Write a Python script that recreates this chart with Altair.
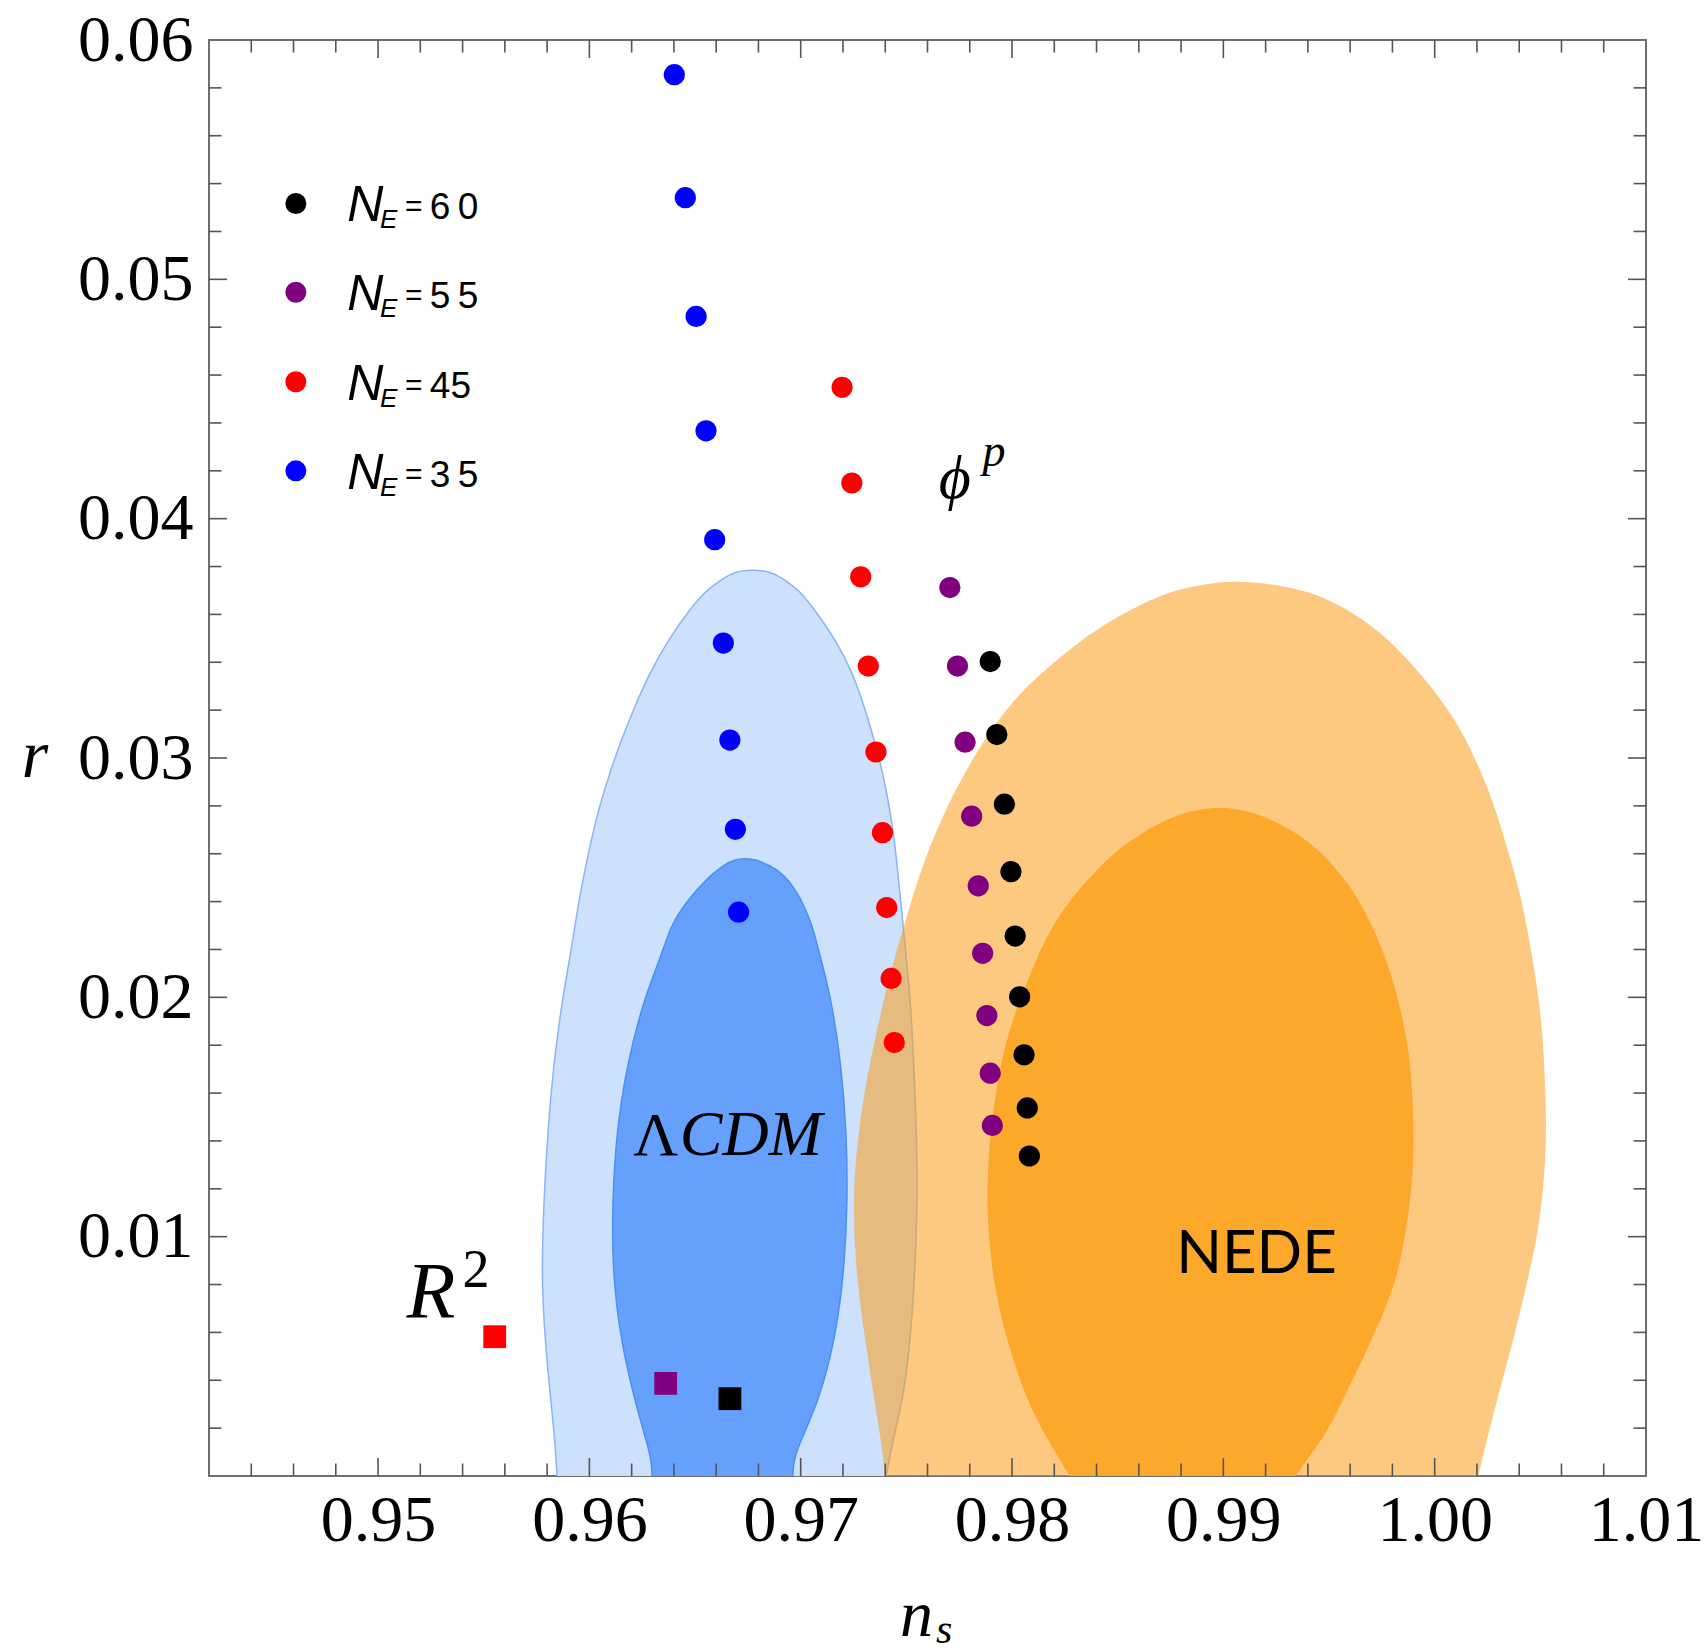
import altair as alt
import pandas as pd

# ---------------- data ----------------
NE_groups = ["60", "55", "45", "35"]
NE_colors = ["#000000", "#800080", "#ff0000", "#0000ff"]

ns_N60 = [0.97897, 0.97928, 0.97964, 0.97995, 0.98015, 0.98036, 0.98057, 0.98072, 0.98082]
r_N60 = [0.03403, 0.03098, 0.02807, 0.02525, 0.02256, 0.02002, 0.01760, 0.01538, 0.01337]
ns_N55 = [0.97706, 0.97742, 0.97778, 0.97809, 0.97840, 0.97861, 0.97881, 0.97897, 0.97907]
r_N55 = [0.03712, 0.03384, 0.03066, 0.02757, 0.02466, 0.02184, 0.01924, 0.01683, 0.01465]
ns_N45 = [0.97196, 0.97242, 0.97284, 0.97320, 0.97356, 0.97387, 0.97407, 0.97428, 0.97443]
r_N45 = [0.04549, 0.04149, 0.03757, 0.03384, 0.03025, 0.02688, 0.02375, 0.02079, 0.01811]
ns_N35 = [0.96402, 0.96454, 0.96505, 0.96552, 0.96593, 0.96634, 0.96665, 0.96691, 0.96706]
r_N35 = [0.05855, 0.05341, 0.04845, 0.04367, 0.03912, 0.03480, 0.03075, 0.02702, 0.02356]

# R^2 model points (squares)
R2_groups = ["45", "55", "60"]
R2_ns = [0.95552, 0.96361, 0.96665]
R2_r = [0.00582, 0.00387, 0.00323]

# LCDM 2-sigma contour (outer, light blue), boundary traced counter-clockwise
lcdm2_ns = [0.95858, 0.95853, 0.95848, 0.95834, 0.95801, 0.95777, 0.95777, 0.95792, 0.95811,
            0.95839, 0.95872, 0.95905, 0.95921, 0.95945, 0.95976, 0.96008, 0.96047, 0.96095,
            0.96150, 0.96213, 0.96284, 0.96371, 0.96482, 0.96553, 0.96616, 0.96687, 0.96772,
            0.96860, 0.96931, 0.96994, 0.97057, 0.97168, 0.97247, 0.97302, 0.97349, 0.97389,
            0.97420, 0.97444, 0.97460, 0.97476, 0.97492, 0.97500, 0.97520, 0.97534, 0.97548,
            0.97553, 0.97539, 0.97515, 0.97482, 0.97444, 0.97402, 0.97373, 0.97354]
lcdm2_r = [-0.00351, -0.00184, 0.00000, 0.00180, 0.00455, 0.00735, 0.00985, 0.01278, 0.01528,
           0.01779, 0.01987, 0.02154, 0.02238, 0.02377, 0.02518, 0.02656, 0.02795, 0.02935,
           0.03073, 0.03212, 0.03353, 0.03491, 0.03630, 0.03699, 0.03741, 0.03779, 0.03787,
           0.03779, 0.03741, 0.03699, 0.03630, 0.03491, 0.03353, 0.03212, 0.03073, 0.02935,
           0.02795, 0.02656, 0.02518, 0.02377, 0.02238, 0.02154, 0.01987, 0.01737, 0.01445,
           0.01152, 0.00818, 0.00526, 0.00317, 0.00180, 0.00000, -0.00184, -0.00351]

# LCDM 1-sigma contour (inner, blue)
lcdm1_ns = [0.96298, 0.96298, 0.96298, 0.96279, 0.96213, 0.96142, 0.96109, 0.96109, 0.96128,
            0.96175, 0.96256, 0.96331, 0.96363, 0.96394, 0.96442, 0.96505, 0.96584, 0.96634,
            0.96687, 0.96739, 0.96789, 0.96852, 0.96915, 0.96979, 0.97018, 0.97050, 0.97073,
            0.97097, 0.97146, 0.97193, 0.97217, 0.97222, 0.97207, 0.97169, 0.97089, 0.96985,
            0.96961, 0.96961, 0.96961]
lcdm1_r = [-0.00351, -0.00100, 0.00046, 0.00121, 0.00317, 0.00597, 0.00873, 0.01152, 0.01432,
           0.01708, 0.01987, 0.02154, 0.02238, 0.02309, 0.02377, 0.02447, 0.02518, 0.02551,
           0.02576, 0.02580, 0.02576, 0.02551, 0.02518, 0.02447, 0.02377, 0.02309, 0.02238,
           0.02154, 0.01987, 0.01708, 0.01432, 0.01152, 0.00873, 0.00597, 0.00317, 0.00121,
           0.00046, -0.00100, -0.00351]

# NEDE 2-sigma contour (outer, light orange)
nede2_ns = [0.97430, 0.97416, 0.97401, 0.97383, 0.97349, 0.97312, 0.97278, 0.97255, 0.97250,
            0.97259, 0.97293, 0.97340, 0.97392, 0.97440, 0.97487, 0.97534, 0.97586, 0.97648,
            0.97724, 0.97809, 0.97908, 0.98031, 0.98207, 0.98401, 0.98704, 0.98888, 0.99049,
            0.99220, 0.99466, 0.99727, 0.99878, 1.00011, 1.00120, 1.00196, 1.00262, 1.00314,
            1.00361, 1.00404, 1.00437, 1.00465, 1.00494, 1.00513, 1.00527, 1.00527, 1.00513,
            1.00489, 1.00437, 1.00380, 1.00337, 1.00295, 1.00247, 1.00205, 1.00167, 1.00120]
nede2_r = [-0.00351, -0.00184, 0.00000, 0.00129, 0.00317, 0.00526, 0.00735, 0.00944, 0.01152,
           0.01319, 0.01570, 0.01779, 0.01987, 0.02154, 0.02292, 0.02434, 0.02572, 0.02710,
           0.02852, 0.02990, 0.03127, 0.03269, 0.03407, 0.03545, 0.03687, 0.03724, 0.03741,
           0.03729, 0.03687, 0.03545, 0.03407, 0.03269, 0.03127, 0.02990, 0.02852, 0.02710,
           0.02572, 0.02434, 0.02292, 0.02154, 0.01987, 0.01820, 0.01570, 0.01361, 0.01194,
           0.01015, 0.00806, 0.00597, 0.00455, 0.00317, 0.00150, 0.00000, -0.00184, -0.00351]

# NEDE 1-sigma contour (inner, orange)
nede1_ns = [0.98534, 0.98401, 0.98273, 0.98169, 0.98069, 0.97989, 0.97927, 0.97894, 0.97880,
            0.97890, 0.97910, 0.97933, 0.97965, 0.98012, 0.98075, 0.98139, 0.98225, 0.98352,
            0.98509, 0.98636, 0.98778, 0.98988, 0.99172, 0.99328, 0.99441, 0.99583, 0.99678,
            0.99749, 0.99803, 0.99843, 0.99875, 0.99891, 0.99898, 0.99902, 0.99888, 0.99835,
            0.99783, 0.99712, 0.99641, 0.99565, 0.99489, 0.99409, 0.99339, 0.99220, 0.99101]
nede1_r = [-0.00351, -0.00184, 0.00000, 0.00150, 0.00317, 0.00526, 0.00735, 0.00944, 0.01152,
           0.01361, 0.01516, 0.01653, 0.01793, 0.01933, 0.02071, 0.02210, 0.02351, 0.02489,
           0.02628, 0.02697, 0.02768, 0.02802, 0.02768, 0.02697, 0.02628, 0.02489, 0.02351,
           0.02210, 0.02071, 0.01933, 0.01793, 0.01653, 0.01516, 0.01361, 0.01152, 0.00873,
           0.00735, 0.00589, 0.00455, 0.00317, 0.00180, 0.00084, 0.00000, -0.00184, -0.00351]

# axis ticks
x_labels = [0.95, 0.96, 0.97, 0.98, 0.99, 1.00, 1.01]
y_labels = [0.01, 0.02, 0.03, 0.04, 0.05, 0.06]
x_major = [0.95, 0.96, 0.97, 0.98, 0.99, 1.00]
x_minor = [round(0.944 + 0.002 * k, 3) for k in range(33)]
x_minor = [v for v in x_minor if all(abs(v - m) > 1e-6 for m in x_major + [1.01])]
y_major = [0.01, 0.02, 0.03, 0.04, 0.05]
y_minor = [round(0.002 * k, 3) for k in range(1, 30)]
y_minor = [v for v in y_minor if all(abs(v - m) > 1e-6 for m in y_major)]

# legend rows
leg_r = [0.05317, 0.04946, 0.04572, 0.04200]
leg_num = ["6\u20090", "5\u20095", "45", "3\u20095"]

# ---------------- layout / styles ----------------
W, H = 1437, 1436
SERIF = "Liberation Serif, DejaVu Serif, serif"
SANS = "Liberation Sans Narrow, Liberation Sans, Arial, sans-serif"

XS = alt.Scale(domain=[0.942, 1.01], nice=False, zero=False)
YS = alt.Scale(domain=[0.0, 0.06], nice=False, zero=False)

x_axis = alt.Axis(values=x_labels, format=".2f", labelFont=SERIF, labelFontSize=66,
                  labelColor="black", ticks=False, domain=False, grid=False,
                  labelPadding=12, labelFlush=False, labelOverlap=False, title=None)
y_axis = alt.Axis(values=y_labels, format=".2f", labelFont=SERIF, labelFontSize=66,
                  labelColor="black", ticks=False, domain=False, grid=False,
                  labelPadding=16, labelFlush=False, labelOverlap=False, title=None)


def X(f):
    return alt.X(f"{f}:Q", scale=XS, axis=x_axis)


def Y(f):
    return alt.Y(f"{f}:Q", scale=YS, axis=y_axis)


color = alt.Color("g:N", scale=alt.Scale(domain=NE_groups, range=NE_colors), legend=None)


def contour(ns, r, fill, stroke=None, sw=0, fop=1.0):
    df = pd.DataFrame({"ns": ns, "r": r, "i": list(range(len(ns)))})
    kw = dict(fill=fill, fillOpacity=fop, interpolate="basis-closed", clip=True)
    if stroke:
        kw.update(stroke=stroke, strokeWidth=sw)
    else:
        kw.update(stroke=fill, strokeWidth=0, strokeOpacity=0)
    return alt.Chart(df).mark_line(**kw).encode(x=X("ns"), y=Y("r"), order=alt.Order("i:Q"))


layers = []
layers.append(contour(lcdm2_ns, lcdm2_r, "#cde0fc", "#8ab5f5", 1.5))
layers.append(contour(lcdm1_ns, lcdm1_r, "#65a1fc", "#4a8ff6", 1.5))
layers.append(contour(nede2_ns, nede2_r, "#fb9d18", None, 0, 0.55))
layers.append(contour(nede1_ns, nede1_r, "#fca82b"))

# points
pts = pd.DataFrame({
    "ns": ns_N60 + ns_N55 + ns_N45 + ns_N35,
    "r": r_N60 + r_N55 + r_N45 + r_N35,
    "g": ["60"] * len(ns_N60) + ["55"] * len(ns_N55) + ["45"] * len(ns_N45) + ["35"] * len(ns_N35),
})
layers.append(alt.Chart(pts).mark_circle(size=450, opacity=1).encode(
    x=X("ns"), y=Y("r"), color=color))

sq = pd.DataFrame({"ns": R2_ns, "r": R2_r, "g": R2_groups})
layers.append(alt.Chart(sq).mark_square(size=520, opacity=1).encode(
    x=X("ns"), y=Y("r"), color=color))

# legend (drawn inside the frame)
leg = pd.DataFrame({"r": leg_r, "g": NE_groups, "t": leg_num,
                    "x0": [0.94611] * 4, "x1": [0.94854] * 4, "x2": [0.95009] * 4,
                    "x3": [0.95127] * 4, "x4": [0.95245] * 4})
layers.append(alt.Chart(leg).mark_circle(size=440, opacity=1).encode(x=X("x0"), y=Y("r"), color=color))
layers.append(alt.Chart(leg).mark_text(text="N", font=SANS, fontSize=50, fontStyle="italic",
                                       align="left", baseline="alphabetic", dy=18, color="black")
              .encode(x=X("x1"), y=Y("r")))
layers.append(alt.Chart(leg).mark_text(text="E", font=SANS, fontSize=26, fontStyle="italic",
                                       align="left", baseline="alphabetic", dy=25, color="black")
              .encode(x=X("x2"), y=Y("r")))
layers.append(alt.Chart(leg).mark_text(text="=", font=SANS, fontSize=30,
                                       align="left", baseline="alphabetic", dy=13, color="black")
              .encode(x=X("x3"), y=Y("r")))
layers.append(alt.Chart(leg).mark_text(font=SANS, fontSize=37,
                                       align="left", baseline="alphabetic", dy=16, color="black")
              .encode(x=X("x4"), y=Y("r"), text="t:N"))

# in-plot annotations (data coordinates)
ann = [
    dict(t="Λ", ns=0.96420, r=0.01340, size=62, style="normal", font=SERIF, align="right"),
    dict(t="CDM", ns=0.96428, r=0.01340, size=64, style="italic", font=SERIF, align="left"),
    dict(t="NEDE", ns=0.99157, r=0.00848, size=60, style="normal", font="Lato, Open Sans, sans-serif", align="center"),
    dict(t="R", ns=0.95134, r=0.00660, size=80, style="italic", font=SERIF, align="left"),
    dict(t="2", ns=0.95399, r=0.00789, size=54, style="normal", font=SERIF, align="left"),
    dict(t="ϕ", ns=0.97729, r=0.04088, size=62, style="italic", font=SERIF, align="center"),
    dict(t="p", ns=0.97860, r=0.04221, size=46, style="italic", font=SERIF, align="left"),
]
for a in ann:
    d = pd.DataFrame({"ns": [a["ns"]], "r": [a["r"]], "t": [a["t"]]})
    layers.append(alt.Chart(d).mark_text(font=a["font"], fontSize=a["size"], fontStyle=a["style"],
                                         align=a["align"], baseline="alphabetic", color="black")
                  .encode(x=X("ns"), y=Y("r"), text="t:N"))

# frame ticks (pointing inward)
TICK = "#555555"


def vticks(vals, y0, y1):
    d = pd.DataFrame({"v": vals})
    return alt.Chart(d).mark_rule(color=TICK, strokeWidth=1.6).encode(
        x=X("v"), y=alt.value(y0), y2=alt.value(y1))


def hticks(vals, x0, x1):
    d = pd.DataFrame({"v": vals})
    return alt.Chart(d).mark_rule(color=TICK, strokeWidth=1.6).encode(
        y=Y("v"), x=alt.value(x0), x2=alt.value(x1))


layers += [vticks(x_major, H, H - 18), vticks(x_minor, H, H - 12.5),
           vticks(x_major, 0, 18), vticks(x_minor, 0, 12.5),
           hticks(y_major, 0, 18), hticks(y_minor, 0, 12.5),
           hticks(y_major, W, W - 18), hticks(y_minor, W, W - 12.5)]

# axis titles (pixel positions relative to the plot area)
titles = [
    dict(t="r", x=-174, y=737, size=68, align="center"),
    dict(t="n", x=691, y=1596, size=66, align="left"),
    dict(t="s", x=727, y=1603, size=42, align="left"),
]
for tt in titles:
    d = pd.DataFrame({"t": [tt["t"]]})
    layers.append(alt.Chart(d).mark_text(font=SERIF, fontSize=tt["size"], fontStyle="italic",
                                         align=tt["align"], baseline="alphabetic", color="black")
                  .encode(x=alt.value(tt["x"]), y=alt.value(tt["y"]), text="t:N"))

chart = (
    alt.layer(*layers)
    .properties(width=W, height=H,
                padding={"left": 209, "top": 40, "right": 61, "bottom": 175},
                autosize=alt.AutoSizeParams(type="none"), background="white")
    .configure_view(stroke="#6e6e6e", strokeWidth=2)
)

chart.save("out.html", embed_options={"renderer": "svg", "actions": False})
